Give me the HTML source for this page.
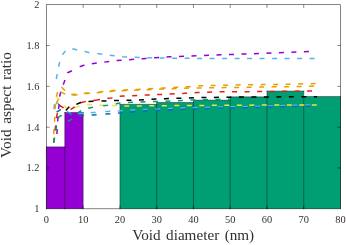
<!DOCTYPE html>
<html><head><meta charset="utf-8"><title>Void aspect ratio</title>
<style>
html,body{margin:0;padding:0;background:#fff;}
body{width:346px;height:245px;overflow:hidden;position:relative;font-family:"Liberation Serif",serif;}
svg text{font-family:"Liberation Serif",serif;fill:#303030;}
</style></head><body>
<svg width="346" height="245" viewBox="0 0 346 245" style="position:absolute;left:0;top:0">
<rect x="0" y="0" width="346" height="245" fill="#fff"/>
<rect x="46.40" y="146.90" width="18.38" height="61.90" fill="#9400D3"/>
<rect x="64.28" y="146.90" width="1" height="61.90" fill="#9400D3"/>
<rect x="64.78" y="112.50" width="18.38" height="96.30" fill="#9400D3"/>
<rect x="119.93" y="104.35" width="36.76" height="104.45" fill="#009E73"/>
<rect x="156.19" y="104.35" width="1" height="104.45" fill="#009E73"/>
<rect x="156.69" y="102.50" width="36.76" height="106.30" fill="#009E73"/>
<rect x="192.95" y="102.50" width="1" height="106.30" fill="#009E73"/>
<rect x="193.45" y="100.15" width="36.76" height="108.65" fill="#009E73"/>
<rect x="229.71" y="100.15" width="1" height="108.65" fill="#009E73"/>
<rect x="230.21" y="96.85" width="36.76" height="111.95" fill="#009E73"/>
<rect x="266.47" y="96.85" width="1" height="111.95" fill="#009E73"/>
<rect x="266.97" y="91.10" width="36.76" height="117.70" fill="#009E73"/>
<rect x="303.24" y="96.55" width="1" height="112.25" fill="#009E73"/>
<rect x="303.74" y="96.55" width="36.76" height="112.25" fill="#009E73"/>
<path d="M46.40,146.90 h18.38 M64.78,112.50 h18.38 M119.93,104.35 h36.76 M156.69,102.50 h36.76 M193.45,100.15 h36.76 M230.21,96.85 h36.76 M266.97,91.10 h36.76 M303.74,96.55 h36.76 M46.40,146.90 V208.8 M64.78,112.50 V208.8 M83.16,112.50 V208.8 M119.93,104.35 V208.8 M156.69,102.50 V208.8 M193.45,100.15 V208.8 M230.21,96.85 V208.8 M266.97,91.10 V208.8 M303.74,91.10 V208.8 M340.50,96.55 V208.8" fill="none" stroke="#000" stroke-opacity="0.68" stroke-width="0.6" stroke-linecap="square"/>
<path d="M53.9,109.1 L54.5,104.2 L55.3,100.8 L56.5,100.3 L57.4,101.8 L58.0,103.4 L60.0,105.8 L63.5,108.5 L67.5,111.6 L72.1,114.5 L76.0,114.1 L79.6,113.4 L84.8,113.2 L92.3,112.6 L97.0,112.4 L107.0,111.4 L119.6,110.8 L132.0,109.9 L145.0,109.5 L158.0,109.1 L169.7,108.4 L182.4,107.9 L205.0,107.4 L220.0,106.9 L257.0,106.4 L295.0,105.2 L310.2,105.0" fill="none" stroke="#56B4E9" stroke-width="1.5" stroke-dasharray="5 7.5 5 7.5 5 7.5 5 7.5 5 9.63 5 7.5 5 7.5 5 7.5 5 7.5 5 7.5 5 7.5 5 7.5 5 7.5 5 7.5 5 7.5 5 7.5 5 7.5 5 7.5 5 7.5 5 7.5 5 7.5 5 1000" stroke-linejoin="round"/>
<path d="M53.7,134.2 L54.6,121.6 L54.7,117.0 L55.0,108.7 L55.6,104.0 L56.4,97.0 L57.6,92.0 L58.8,87.8 L60.2,86.6 L61.7,87.4 L65.1,90.5 L68.0,93.3 L71.3,94.6 L78.0,94.2 L87.0,92.9 L100.0,91.9 L112.4,90.6 L162.7,88.1 L188.0,86.7 L200.0,85.8 L225.0,85.2 L238.0,84.9 L263.0,84.6 L288.0,84.3 L315.6,83.5" fill="none" stroke="#E69F00" stroke-width="1.5" stroke-dasharray="5 7.5 5 7.5 5 7.5 5 7.5 5 7.5 5 7.5 5 9.73 5 7.5 5 7.5 5 7.5 5 7.5 5 7.5 5 7.5 5 7.5 5 7.5 5 7.5 5 7.5 5 7.5 5 7.5 5 7.5 5 7.5 5 7.5 5 7.5 5 7.5 5 1000" stroke-linejoin="round"/>
<path d="M56.5,96.7 L56.9,97.0 L59.6,99.6 L62.0,102.5 L63.7,105.0 L66.4,108.2 L68.2,108.9 L70.5,109.0 L74.5,107.6 L79.0,106.4 L85.2,104.8 L89.2,104.6 L97.9,105.1 L103.1,105.2 L113.5,105.5 L125.4,106.0 L140.0,105.9 L165.0,105.7 L200.0,105.4 L240.0,105.2 L290.0,104.9 L316.8,104.9" fill="none" stroke="#F0E442" stroke-width="1.5" stroke-dasharray="4.25 7.5 5 7.5 5 7.5 5 7.15 5 7.5 5 7.5 5 7.5 5 7.5 5 7.5 5 7.5 5 7.5 5 7.5 5 7.5 5 7.5 5 7.5 5 7.5 5 7.5 5 7.5 5 7.5 5 7.5 5 7.5 5 1000" stroke-linejoin="round"/>
<path d="M56.6,112.2 L60.2,109.8 L62.5,109.7 L67.5,112.6 L72.1,115.6 L75.5,116.2 L79.6,115.7 L84.8,115.5 L92.3,114.9 L97.0,114.7 L107.0,113.9 L119.6,113.0 L132.0,112.0 L145.0,110.9 L158.0,110.5 L169.7,110.0 L182.4,109.4 L205.0,108.7 L220.0,108.1 L257.0,107.6 L295.0,106.4 L310.2,106.2" fill="none" stroke="#0072B2" stroke-width="1.5" stroke-dasharray="5 7.5 5 7.5 5 7.5 5 8.84 5 7.5 5 7.5 5 7.5 5 7.5 5 7.5 5 7.5 5 7.5 5 7.5 5 7.5 5 7.5 5 7.5 5 7.5 5 7.5 5 7.5 5 7.5 5 7.5 5 1000" stroke-linejoin="round"/>
<path d="M53.7,142.9 L55.1,130.0 L56.3,118.3 L57.2,114.0 L58.5,107.8 L59.8,105.6 L64.7,108.6 L67.8,110.2 L71.3,109.1 L75.6,106.1 L81.8,102.5 L86.0,101.3 L96.8,100.0 L107.0,98.2 L111.6,98.0 L119.0,96.4 L123.7,96.1 L140.0,95.3 L160.0,94.5 L185.0,93.3 L197.0,92.5 L222.0,91.8 L260.0,91.6 L300.0,91.1 L312.1,91.0" fill="none" stroke="#E51E10" stroke-width="1.5" stroke-dasharray="5 7.5 5 7.5 5 7.5 5 7.5 5 7.5 5 7.5 6.83 7.5 5 7.5 5 7.5 5 7.5 5 7.5 5 7.5 5 7.5 5 7.5 5 7.5 5 7.5 5 7.5 5 7.5 5 7.5 5 7.5 5 7.5 5 7.5 5 7.5 5 1000" stroke-linejoin="round"/>
<path d="M65.8,110.4 L68.8,107.3 L72.5,105.6 L76.6,104.2 L80.7,102.5 L88.2,101.6 L93.2,101.3 L100.6,101.0 L105.8,101.0 L113.3,100.6 L118.5,100.6 L126.0,100.3 L131.0,100.3 L165.0,98.7 L200.0,97.6 L240.0,97.1 L290.0,96.8 L317.1,96.8" fill="none" stroke="#000000" stroke-width="1.5" stroke-dasharray="5 7.5 5 7.5 5 8 5 7.5 5 7.5 5 7.5 5 7.5 5 7.5 5 7.5 5 7.5 5 7.5 5 7.5 5 7.5 5 7.5 5 7.5 5 7.5 5 7.5 5 7.5 5 7.5 5 7.5 3.2 1000" stroke-linejoin="round"/>
<path d="M56.9,134.0 L57.7,121.0 L58.0,116.4 L58.6,108.3 L59.3,103.7 L59.7,96.0 L60.9,91.6 L62.0,87.5 L63.3,84.4 L65.1,79.7 L66.3,75.5 L67.6,72.7 L71.9,70.7 L79.7,66.7 L83.8,65.3 L92.0,63.7 L115.2,60.7 L136.0,59.1 L169.8,56.8 L252.4,53.7 L308.9,51.6" fill="none" stroke="#9400D3" stroke-width="1.5" stroke-dasharray="5 7.5 5 7.5 5 7.5 5 7.5 5 7.5 5 8.8 5 7.5 5 7.5 5 7.5 5 7.5 5 7.5 5 7.5 5 7.5 5 7.5 5 7.5 5 7.5 5 7.5 5 7.5 5 7.5 5 7.5 5 7.5 5 7.5 5 7.5 5 7.5 5 1000" stroke-linejoin="round"/>
<path d="M53.7,142.6 L55.1,135.0 L56.2,128.3 L56.6,124.0 L56.8,119.8 L58.4,117.7 L60.4,115.7 L62.1,115.9 L68.0,120.8 L69.2,120.8 L73.8,117.6 L79.0,112.1 L83.1,109.2 L86.5,108.3 L89.8,107.9 L95.0,106.7 L102.5,105.8 L107.7,105.2 L115.3,104.0 L120.0,103.0 L127.5,102.5 L133.0,102.3 L165.0,101.2 L200.0,99.7 L229.8,99.1" fill="none" stroke="#009E73" stroke-width="1.5" stroke-dasharray="5 7.5 5 7.5 5 7.5 5 7.5 5 7.5 5 10.23 5 7.5 5 7.5 5 7.5 5 7.5 5 7.5 5 7.5 5 7.5 5 7.5 5 7.5 5 7.5 1.95 1000" stroke-linejoin="round"/>
<path d="M56.3,79.0 L57.2,74.0 L58.6,67.0 L59.8,61.5 L61.2,57.0 L62.7,54.4 L64.6,52.0 L66.4,50.3 L69.0,48.9 L71.6,48.5 L76.6,49.8 L83.8,51.4 L88.8,52.4 L97.3,53.4 L102.2,54.3 L123.0,56.8 L140.0,57.5 L174.0,58.3 L250.0,58.6 L314.6,58.6" fill="none" stroke="#56B4E9" stroke-width="1.5" stroke-dasharray="5 7.5 5 7.5 5 7.5 5 7.5 5 7.94 5 7.5 5 7.5 5 7.5 5 7.5 5 7.5 5 7.5 5 7.5 5 7.5 5 7.5 5 7.5 5 7.5 5 7.5 5 7.5 5 7.5 5 7.5 5 7.5 5 7.5 5 1000" stroke-linejoin="round"/>
<path d="M56.0,104.0 L58.1,99.6 L59.4,94.6 L60.3,92.9 L61.5,92.3 L65.8,94.4 L68.5,95.2 L72.0,95.2 L78.0,94.8 L87.0,93.5 L100.0,92.5 L112.4,91.2 L162.7,89.0 L188.0,88.1 L198.0,88.0 L224.0,87.6 L236.0,87.5 L262.0,86.9 L286.0,86.8 L314.1,86.1" fill="none" stroke="#E69F00" stroke-width="1.5" stroke-dasharray="5 7.5 5 7.5 5 7.5 5 6.81 5 7.5 5 7.5 5 7.5 5 7.5 5 7.5 5 7.5 5 7.5 5 7.5 5 7.5 5 7.5 5 7.5 5 7.5 5 7.5 5 7.5 5 7.5 5 7.5 5 7.5 5 1000" stroke-linejoin="round"/>
<rect x="46.4" y="4.7" width="294.10" height="204.10" fill="none" stroke="#000" stroke-opacity="0.8" stroke-width="0.6"/>
<path d="M83.16,208.8 v-3.2 M83.16,4.7 v3.2 M119.93,208.8 v-3.2 M119.93,4.7 v3.2 M156.69,208.8 v-3.2 M156.69,4.7 v3.2 M193.45,208.8 v-3.2 M193.45,4.7 v3.2 M230.21,208.8 v-3.2 M230.21,4.7 v3.2 M266.97,208.8 v-3.2 M266.97,4.7 v3.2 M303.74,208.8 v-3.2 M303.74,4.7 v3.2 M46.4,167.98 h3.2 M340.5,167.98 h-3.2 M46.4,127.16 h3.2 M340.5,127.16 h-3.2 M46.4,86.34 h3.2 M340.5,86.34 h-3.2 M46.4,45.52 h3.2 M340.5,45.52 h-3.2" fill="none" stroke="#000" stroke-opacity="0.8" stroke-width="0.6"/>
</svg>
<svg width="346" height="245" viewBox="0 0 346 245" style="position:absolute;left:0;top:0;will-change:transform">
<text x="46.40" y="223.4" font-size="10.4" text-anchor="middle">0</text>
<text x="83.16" y="223.4" font-size="10.4" text-anchor="middle">10</text>
<text x="119.93" y="223.4" font-size="10.4" text-anchor="middle">20</text>
<text x="156.69" y="223.4" font-size="10.4" text-anchor="middle">30</text>
<text x="193.45" y="223.4" font-size="10.4" text-anchor="middle">40</text>
<text x="230.21" y="223.4" font-size="10.4" text-anchor="middle">50</text>
<text x="266.97" y="223.4" font-size="10.4" text-anchor="middle">60</text>
<text x="303.74" y="223.4" font-size="10.4" text-anchor="middle">70</text>
<text x="340.50" y="223.4" font-size="10.4" text-anchor="middle">80</text>
<text x="39.4" y="212.30" font-size="10.4" text-anchor="end">1</text>
<text x="39.4" y="171.48" font-size="10.4" text-anchor="end">1.2</text>
<text x="39.4" y="130.66" font-size="10.4" text-anchor="end">1.4</text>
<text x="39.4" y="89.84" font-size="10.4" text-anchor="end">1.6</text>
<text x="39.4" y="49.02" font-size="10.4" text-anchor="end">1.8</text>
<text x="39.4" y="8.20" font-size="10.4" text-anchor="end">2</text>
<text x="193.2" y="240.2" font-size="14.6" word-spacing="1.6" text-anchor="middle" textLength="122" lengthAdjust="spacingAndGlyphs">Void diameter (nm)</text>
<text transform="translate(11.4,105) rotate(-90)" font-size="14.6" word-spacing="1.6" text-anchor="middle" textLength="106" lengthAdjust="spacingAndGlyphs">Void aspect ratio</text>
</svg>
</body></html>
